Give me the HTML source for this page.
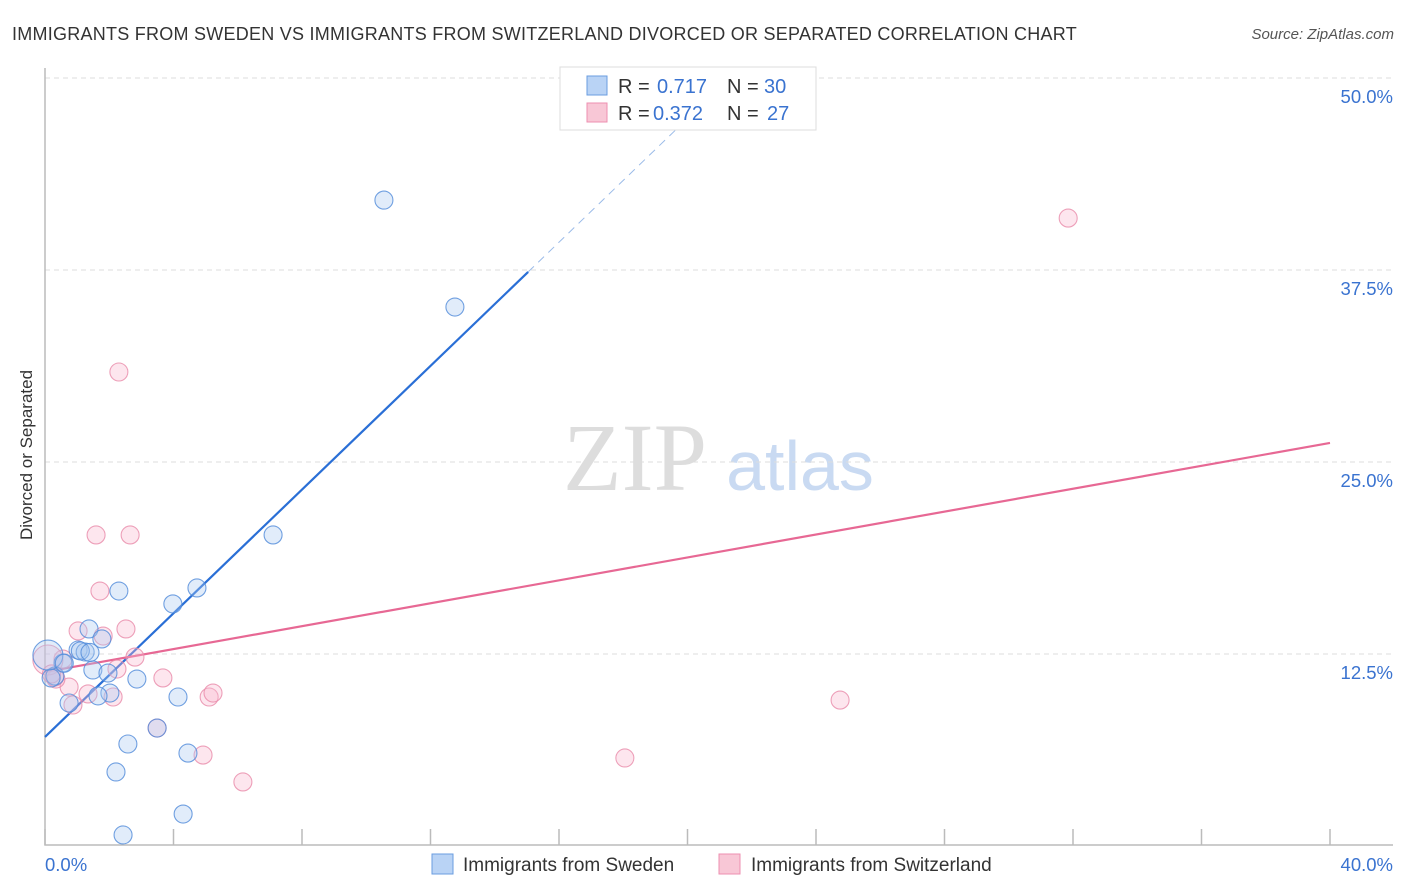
<!DOCTYPE html>
<html><head><meta charset="utf-8"><style>
body{margin:0;background:#fff;font-family:"Liberation Sans",sans-serif}
svg{display:block}
</style></head><body>
<svg id="c" width="1406" height="892" xmlns="http://www.w3.org/2000/svg">
<text x="12" y="40" font-size="18" letter-spacing="0.25" fill="#333">IMMIGRANTS FROM SWEDEN VS IMMIGRANTS FROM SWITZERLAND DIVORCED OR SEPARATED CORRELATION CHART</text>
<text x="1394" y="39" font-size="15" fill="#555" font-style="italic" text-anchor="end">Source: ZipAtlas.com</text>
<text x="32" y="455" font-size="17" fill="#333" text-anchor="middle" transform="rotate(-90 32 455)">Divorced or Separated</text>
<g><text x="635" y="490" font-size="96" font-family="Liberation Serif,serif" fill="#ddd" text-anchor="middle">ZIP</text><text x="800" y="490" font-size="70" fill="#c9daf2" text-anchor="middle">atlas</text></g>
<g id="grid"></g><g id="axes"></g><g id="lines"></g><g id="pts"></g>
<g>
<rect x="560" y="67" width="256" height="63" fill="#fff" stroke="#ddd"/>
<rect x="587" y="76" width="20" height="19" fill="#b9d3f5" stroke="#6a9de0"/>
<rect x="587" y="103" width="20" height="19" fill="#f8c7d6" stroke="#ee8fb0"/>
<text x="618" y="93" font-size="20" fill="#333">R = </text><text x="657" y="93" font-size="20" fill="#3a73d0">0.717</text>
<text x="727" y="93" font-size="20" fill="#333">N = </text><text x="764" y="93" font-size="20" fill="#3a73d0">30</text>
<text x="618" y="120" font-size="20" fill="#333">R = </text><text x="653" y="120" font-size="20" fill="#3a73d0">0.372</text>
<text x="727" y="120" font-size="20" fill="#333">N = </text><text x="767" y="120" font-size="20" fill="#3a73d0">27</text>
</g>
<g>
<rect x="432" y="854" width="21" height="20" fill="#b9d3f5" stroke="#6a9de0"/>
<text x="463" y="871" font-size="19" fill="#333">Immigrants from Sweden</text>
<rect x="719" y="854" width="21" height="20" fill="#f8c7d6" stroke="#ee8fb0"/>
<text x="751" y="871" font-size="19" fill="#333">Immigrants from Switzerland</text>
</g>
</svg>
<script>
const yTicks=[12.5,25,37.5,50];
const yTickLabels=["12.5%","25.0%","37.5%","50.0%"];
const xTicks=[0,4,8,12,16,20,24,28,32,36,40];
const swedenX=[10.55,12.76,7.10,4.73,3.98,2.30,1.37,1.77,1.03,1.25,0.56,1.49,1.96,2.86,2.02,1.65,4.14,0.75,2.58,4.45,2.21,4.30,2.43,3.49,0.31,0.19,0.09,0.6,1.1,1.4];
const swedenY=[42.05,35.09,20.25,16.80,15.76,16.60,14.13,13.48,12.76,12.63,11.91,11.46,11.26,10.87,9.96,9.77,9.70,9.31,6.64,6.05,4.82,2.08,0.72,7.68,11.07,10.94,12.43,11.9,12.7,12.6];
const swissX=[31.85,2.30,1.59,2.65,1.71,2.52,1.03,1.81,0.56,2.80,2.24,3.67,0.75,0.34,1.34,2.12,5.11,5.23,0.87,3.49,4.92,6.16,18.05,24.75,0.09,0.3,0.2];
const swissY=[40.88,30.86,20.25,20.25,16.60,14.13,14.00,13.67,12.17,12.30,11.52,10.94,10.35,10.87,9.90,9.70,9.70,9.96,9.18,7.68,5.92,4.17,5.73,9.50,12.11,11.0,11.2];
const swedenLine=[7.10,2.013];
const swissLine=[11.33,0.3728];
const X=v=>45+v/40*1285, Y=v=>846-v/12.5*192;
const NS="http://www.w3.org/2000/svg";
function mk(p,t,a){const e=document.createElementNS(NS,t);for(const k in a)e.setAttribute(k,a[k]);document.getElementById(p).appendChild(e);return e;}
yTicks.forEach((t,i)=>{
 const l=mk('grid','line',{x1:45,x2:1393,y1:Y(t),y2:Y(t),stroke:'#ddd','stroke-dasharray':'5,4'});
 
 
 const tx=mk('grid','text',{x:1393,y:Y(t)+25,'font-size':18.5,fill:'#3a73d0','text-anchor':'end'});tx.textContent=yTickLabels[i];
 
 
});
const ax=mk('axes','path',{d:'M45 68V845H1393',fill:'none',stroke:'#bbb','stroke-width':1.5});


xTicks.forEach(t=>{const l=mk('axes','line',{x1:X(t),x2:X(t),y1:829,y2:845,stroke:'#bbb','stroke-width':1.5});
 
 });
[[0,'0.0%','start',45],[40,'40.0%','end',1393]].forEach(d=>{const t=mk('axes','text',{x:d[3],y:871,'font-size':18.5,fill:'#3a73d0','text-anchor':d[2]});t.textContent=d[1];
 
 });
function pts(xs,ys,f,s,name){xs.forEach((x,i)=>{const big=i==xs.length-(name=='sweden-point'?4:3);
 const c=mk('pts','circle',{cx:X(x),cy:Y(ys[i]),r:big?15:9,fill:f,'fill-opacity':0.35,stroke:s,'stroke-width':1.1,'stroke-opacity':0.8});
 
 });}
pts(swissX,swissY,'#f8b8cd','#e889a9','switzerland-point');
pts(swedenX,swedenY,'#a9c8f2','#4f8ad9','sweden-point');
const xe=15.04, xd=(50-swedenLine[0])/swedenLine[1];
const b1=mk('lines','line',{x1:X(0),y1:Y(swedenLine[0]),x2:X(xe),y2:Y(swedenLine[0]+swedenLine[1]*xe),stroke:'#2a6fd6','stroke-width':2.2});


const b2=mk('lines','line',{x1:X(xe),y1:Y(swedenLine[0]+swedenLine[1]*xe),x2:X(xd),y2:Y(50),stroke:'#9bbbe8','stroke-width':1,'stroke-dasharray':'8,6'});


const p1=mk('lines','line',{x1:X(0),y1:Y(swissLine[0]),x2:X(40),y2:Y(swissLine[0]+swissLine[1]*40),stroke:'#e76894','stroke-width':2.2});


</script>
</body></html>
